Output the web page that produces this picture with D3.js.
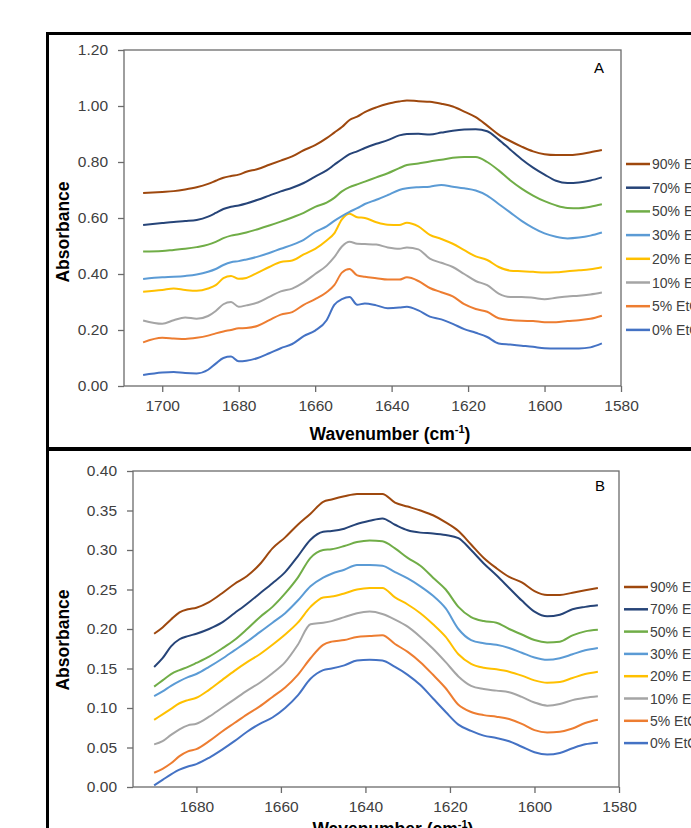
<!DOCTYPE html>
<html>
<head>
<meta charset="utf-8">
<script src="https://cdn.jsdelivr.net/npm/d3@7"></script>
<style>
  body { margin: 0; background: #fff; }
  svg { display: block; font-family: "Liberation Sans", Arial, sans-serif; }
</style>
</head>
<body>
<script>
// Panel A: wavenumbers (cm-1) and absorbance per EtOH level
const waveA = [1705,1700,1697,1694,1691,1688,1686,1684,1682,1680,1678,1675,1672,1669,1666,1663,1660,1657,1655,1653,1651,1649,1647,1644,1641,1638,1636,1633,1630,1627,1624,1621,1618,1615,1612,1609,1606,1603,1600,1597,1594,1591,1588,1585];
const absA0  = [0.039,0.048,0.050,0.046,0.045,0.058,0.080,0.100,0.105,0.088,0.090,0.100,0.117,0.135,0.150,0.178,0.198,0.235,0.290,0.310,0.318,0.290,0.295,0.288,0.278,0.280,0.283,0.270,0.248,0.238,0.222,0.203,0.190,0.175,0.152,0.148,0.144,0.140,0.135,0.134,0.134,0.134,0.138,0.152];
const absA5  = [0.156,0.172,0.170,0.168,0.172,0.180,0.188,0.195,0.200,0.206,0.207,0.215,0.235,0.255,0.264,0.290,0.310,0.335,0.360,0.405,0.418,0.395,0.390,0.385,0.380,0.380,0.388,0.375,0.350,0.335,0.320,0.292,0.275,0.265,0.242,0.236,0.233,0.232,0.228,0.228,0.232,0.235,0.240,0.251];
const absA10 = [0.234,0.222,0.235,0.245,0.240,0.250,0.268,0.292,0.300,0.283,0.288,0.298,0.318,0.338,0.348,0.370,0.400,0.430,0.460,0.498,0.515,0.508,0.507,0.505,0.495,0.490,0.495,0.488,0.455,0.440,0.425,0.400,0.375,0.360,0.330,0.318,0.318,0.315,0.310,0.315,0.320,0.322,0.327,0.334];
const absA20 = [0.337,0.343,0.348,0.343,0.340,0.348,0.360,0.385,0.393,0.383,0.386,0.405,0.425,0.443,0.448,0.470,0.490,0.520,0.545,0.595,0.615,0.603,0.600,0.585,0.576,0.575,0.583,0.570,0.540,0.525,0.508,0.485,0.463,0.450,0.425,0.412,0.410,0.408,0.405,0.406,0.410,0.413,0.417,0.424];
const absA30 = [0.382,0.388,0.390,0.393,0.398,0.408,0.418,0.432,0.442,0.446,0.452,0.462,0.475,0.490,0.504,0.522,0.550,0.570,0.590,0.607,0.622,0.635,0.650,0.665,0.682,0.700,0.706,0.710,0.712,0.718,0.712,0.706,0.698,0.680,0.650,0.620,0.590,0.565,0.545,0.533,0.527,0.530,0.537,0.548];
const absA50 = [0.480,0.482,0.486,0.490,0.496,0.505,0.515,0.528,0.537,0.542,0.548,0.560,0.573,0.587,0.602,0.618,0.640,0.655,0.672,0.695,0.710,0.720,0.730,0.745,0.760,0.778,0.789,0.795,0.802,0.808,0.815,0.818,0.818,0.800,0.770,0.735,0.705,0.680,0.660,0.645,0.636,0.635,0.640,0.649];
const absA70 = [0.575,0.582,0.586,0.589,0.593,0.605,0.618,0.632,0.640,0.645,0.652,0.665,0.680,0.695,0.708,0.725,0.748,0.770,0.790,0.810,0.828,0.838,0.850,0.865,0.878,0.895,0.900,0.901,0.898,0.905,0.912,0.916,0.917,0.910,0.880,0.845,0.810,0.780,0.755,0.733,0.725,0.727,0.734,0.745];
const absA90 = [0.689,0.693,0.696,0.702,0.710,0.722,0.733,0.744,0.750,0.755,0.765,0.775,0.790,0.805,0.820,0.842,0.860,0.885,0.905,0.925,0.950,0.962,0.978,0.995,1.008,1.016,1.020,1.017,1.015,1.008,0.998,0.980,0.960,0.930,0.898,0.875,0.855,0.838,0.828,0.825,0.825,0.828,0.835,0.843];

// Panel B
const waveB = [1690,1688,1686,1684,1682,1680,1677,1674,1671,1668,1665,1662,1659,1656,1653,1650,1648,1645,1642,1639,1636,1633,1630,1627,1624,1621,1618,1615,1612,1609,1606,1603,1600,1597,1594,1591,1588,1585];
const absB0  = [0.002,0.009,0.016,0.022,0.026,0.029,0.037,0.047,0.058,0.070,0.080,0.088,0.100,0.116,0.137,0.148,0.150,0.154,0.160,0.161,0.160,0.152,0.142,0.129,0.112,0.095,0.079,0.071,0.065,0.062,0.058,0.051,0.044,0.041,0.043,0.049,0.054,0.056];
const absB5  = [0.018,0.023,0.030,0.039,0.045,0.048,0.058,0.070,0.081,0.092,0.102,0.114,0.126,0.142,0.163,0.180,0.184,0.186,0.190,0.191,0.192,0.181,0.171,0.158,0.142,0.125,0.104,0.095,0.091,0.089,0.086,0.080,0.072,0.069,0.070,0.074,0.081,0.085];
const absB10 = [0.054,0.058,0.066,0.073,0.078,0.080,0.089,0.100,0.111,0.122,0.132,0.144,0.158,0.180,0.206,0.208,0.210,0.215,0.220,0.222,0.219,0.212,0.203,0.190,0.175,0.158,0.140,0.128,0.124,0.122,0.120,0.114,0.107,0.103,0.105,0.110,0.113,0.115];
const absB20 = [0.085,0.092,0.099,0.106,0.110,0.113,0.123,0.135,0.147,0.158,0.168,0.180,0.193,0.208,0.228,0.240,0.241,0.245,0.250,0.252,0.252,0.240,0.231,0.220,0.206,0.190,0.168,0.156,0.151,0.149,0.146,0.141,0.135,0.132,0.133,0.138,0.143,0.146];
const absB30 = [0.115,0.121,0.128,0.134,0.139,0.143,0.152,0.162,0.173,0.184,0.196,0.208,0.220,0.236,0.254,0.265,0.270,0.275,0.281,0.281,0.280,0.272,0.264,0.254,0.242,0.226,0.200,0.186,0.182,0.180,0.176,0.170,0.164,0.161,0.163,0.168,0.173,0.176];
const absB50 = [0.127,0.135,0.143,0.148,0.152,0.157,0.165,0.175,0.186,0.200,0.215,0.228,0.245,0.265,0.290,0.300,0.301,0.305,0.310,0.312,0.311,0.302,0.290,0.280,0.265,0.250,0.228,0.215,0.210,0.208,0.200,0.193,0.186,0.183,0.184,0.192,0.197,0.199];
const absB70 = [0.152,0.163,0.178,0.187,0.191,0.194,0.200,0.208,0.220,0.232,0.245,0.258,0.272,0.292,0.313,0.323,0.324,0.327,0.333,0.337,0.340,0.332,0.325,0.322,0.321,0.319,0.315,0.300,0.283,0.268,0.252,0.236,0.222,0.216,0.218,0.225,0.228,0.230];
const absB90 = [0.194,0.202,0.212,0.221,0.225,0.227,0.234,0.245,0.257,0.267,0.282,0.302,0.316,0.332,0.346,0.361,0.364,0.368,0.371,0.371,0.371,0.360,0.355,0.350,0.344,0.335,0.324,0.307,0.290,0.277,0.266,0.259,0.248,0.243,0.243,0.246,0.249,0.252];

const labels = ["90% EtOH","70% EtOH","50% EtOH","30% EtOH","20% EtOH","10% EtOH","5% EtOH","0% EtOH"];
const colors = ["#9E480E","#264478","#70AD47","#5B9BD5","#FFC000","#A5A5A5","#ED7D31","#4472C4"];
const ticksXA = [1700,1680,1660,1640,1620,1600,1580];
const ticksYA = [0,0.2,0.4,0.6,0.8,1.0,1.2];
const ticksXB = [1680,1660,1640,1620,1600,1580];
const ticksYB = [0,0.05,0.10,0.15,0.20,0.25,0.30,0.35,0.40];

const W = 691, H = 828;
const svg = d3.select("body").append("svg").attr("width", W).attr("height", H);

// black frames around the two panels
svg.append("line").attr("x1", 46).attr("x2", W).attr("y1", 33.5).attr("y2", 33.5)
  .attr("stroke", "#000").attr("stroke-width", 3);
svg.append("line").attr("x1", 46).attr("x2", W).attr("y1", 449).attr("y2", 449)
  .attr("stroke", "#000").attr("stroke-width", 4);
svg.append("line").attr("x1", 47.5).attr("x2", 47.5).attr("y1", 32).attr("y2", H)
  .attr("stroke", "#000").attr("stroke-width", 3);

function drawPanel(p) {
  const x = d3.scaleLinear().domain(p.xDomain).range([p.left, p.right]);
  const y = d3.scaleLinear().domain(p.yDomain).range([p.bottom, p.top]);
  const g = svg.append("g");

  const xAxis = g.append("g").attr("transform", `translate(0,${p.bottom})`)
    .call(d3.axisBottom(x).tickValues(p.xTicks).tickSize(6).tickSizeOuter(0).tickPadding(8).tickFormat(d3.format("d")));
  const yAxis = g.append("g").attr("transform", `translate(${p.left},0)`)
    .call(d3.axisLeft(y).tickValues(p.yTicks).tickSize(6).tickSizeOuter(0).tickPadding(10).tickFormat(d3.format(".2f")));
  [xAxis, yAxis].forEach(a => {
    a.select(".domain").remove();
    a.selectAll("line").attr("stroke", "#6b6b6b").attr("stroke-width", 1.3);
    a.selectAll("text").attr("fill", "#404040").style("font-size", "15.5px")
      .style("font-family", "'Liberation Sans', Arial, sans-serif");
  });

  g.append("rect").attr("x", p.left).attr("y", p.top)
    .attr("width", p.right - p.left).attr("height", p.bottom - p.top)
    .attr("fill", "none").attr("stroke", "#6b6b6b").attr("stroke-width", 1.3);

  const line = d3.line().x((d, i) => x(p.wave[i])).y(d => y(d)).curve(d3.curveMonotoneX);
  g.append("g").selectAll("path").data(p.series.slice().reverse()).join("path")
    .attr("d", d => line(d.values))
    .attr("fill", "none").attr("stroke", d => d.color).attr("stroke-width", 2);

  g.append("text").attr("x", p.letterX).attr("y", p.letterY).attr("text-anchor", "middle")
    .attr("dy", "0.35em").style("font-size", "15px").attr("fill", "#000").text(p.letter);

  // axis titles
  g.append("text")
    .attr("transform", `translate(${p.yTitleX},${p.yTitleY}) rotate(-90)`)
    .attr("text-anchor", "middle").attr("dy", "0.35em")
    .style("font-size", "17.5px").style("font-weight", "bold").attr("fill", "#000")
    .text("Absorbance");
  const xt = g.append("text").attr("x", p.xTitleX).attr("y", p.xTitleY)
    .attr("text-anchor", "middle").style("font-size", "17.5px").style("font-weight", "bold").attr("fill", "#000");
  xt.append("tspan").text("Wavenumber (cm");
  xt.append("tspan").attr("dy", "-7").style("font-size", "11px").text("-1");
  xt.append("tspan").attr("dy", "7").text(")");

  // legend (labels run past the right edge, as in the reference crop)
  const lg = g.append("g").selectAll("g").data(p.series).join("g")
    .attr("transform", (d, i) => `translate(${p.legX},${p.legY + i * p.legStep})`);
  lg.append("line").attr("x1", 0).attr("x2", 24).attr("stroke", d => d.color).attr("stroke-width", 2.5);
  lg.append("text").attr("x", 26).attr("dy", "0.36em").style("font-size", "14px").attr("fill", "#404040")
    .text(d => d.label);
}

const mk = arrs => arrs.map((v, i) => ({ label: labels[i], color: colors[i], values: v }));

drawPanel({
  wave: waveA, series: mk([absA90, absA70, absA50, absA30, absA20, absA10, absA5, absA0]),
  xDomain: [1710, 1580], yDomain: [0, 1.2], xTicks: ticksXA, yTicks: ticksYA,
  left: 124, right: 621, top: 50, bottom: 386,
  letter: "A", letterX: 599, letterY: 68,
  yTitleX: 63, yTitleY: 232, xTitleX: 390, xTitleY: 440,
  legX: 626, legY: 164, legStep: 23.7
});

drawPanel({
  wave: waveB, series: mk([absB90, absB70, absB50, absB30, absB20, absB10, absB5, absB0]),
  xDomain: [1695, 1580], yDomain: [0, 0.4], xTicks: ticksXB, yTicks: ticksYB,
  left: 133, right: 619, top: 471, bottom: 787,
  letter: "B", letterX: 600, letterY: 486,
  yTitleX: 63, yTitleY: 640, xTitleX: 393, xTitleY: 835,
  legX: 624, legY: 587, legStep: 22.3
});
</script>
</body>
</html>
